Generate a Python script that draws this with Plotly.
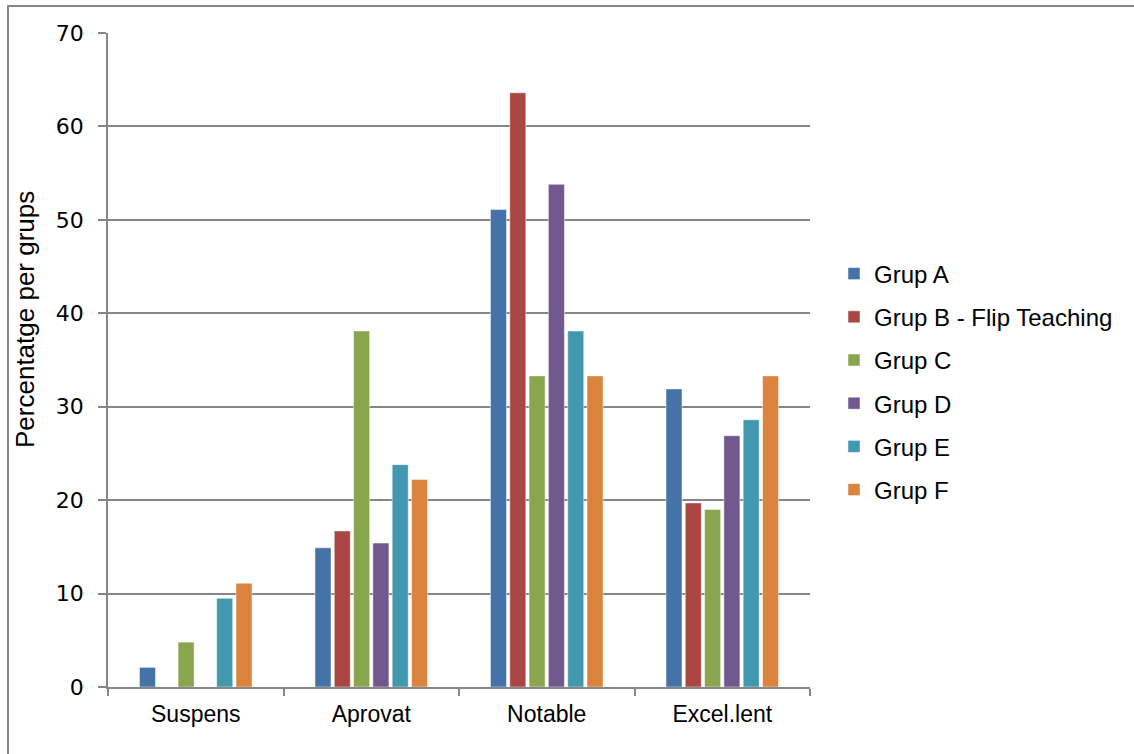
import plotly.graph_objects as go

categories = ["Suspens", "Aprovat", "Notable", "Excel.lent"]
groups = ["Grup A", "Grup B - Flip Teaching", "Grup C", "Grup D", "Grup E", "Grup F"]
grup_a = [2.1, 14.9, 51.1, 31.9]
grup_b = [0.0, 16.7, 63.6, 19.7]
grup_c = [4.8, 38.1, 33.3, 19.0]
grup_d = [0.0, 15.4, 53.8, 26.9]
grup_e = [9.5, 23.8, 38.1, 28.6]
grup_f = [11.1, 22.2, 33.3, 33.3]
series = [grup_a, grup_b, grup_c, grup_d, grup_e, grup_f]
colors = ["#4572A7", "#AA4643", "#89A54E", "#71588F", "#4198AF", "#DB843D"]
y_ticks = [0, 10, 20, 30, 40, 50, 60, 70]

W, H = 1134, 754
L, R, T, B = 108, 810, 33, 687

fig = go.Figure()
for name, vals, col in zip(groups, series, colors):
    fig.add_trace(go.Bar(
        x=categories, y=vals, name=name, legendgroup=name,
        marker=dict(color=col, line=dict(color="rgba(255,255,255,0.6)", width=0.8)),
    ))

grid = "#868686"
fig.update_layout(
    width=W, height=H,
    margin=dict(l=L, r=W - R, t=T, b=H - B),
    paper_bgcolor="white", plot_bgcolor="white",
    barmode="group", bargap=0.34, bargroupgap=0.17,
    font=dict(family="Liberation Sans, Arial, sans-serif", color="black"),
    legend=dict(
        x=(834 - L) / (R - L), xanchor="left",
        y=(B - 382) / (B - T), yanchor="middle",
        font=dict(family="Liberation Sans, Arial, sans-serif", size=24, color="black"),
        tracegroupgap=9, bgcolor="rgba(0,0,0,0)",
    ),
    xaxis=dict(
        type="category", showgrid=False, tickson="boundaries",
        ticks="outside", ticklen=7, tickwidth=1.5, tickcolor=grid,
        showline=True, linecolor=grid, linewidth=1.5,
        tickfont=dict(family="Liberation Sans, Arial, sans-serif", size=23, color="black"),
        ticklabelstandoff=6, zeroline=False,
    ),
    yaxis=dict(
        range=[0, 70], tickvals=y_ticks, showgrid=True, gridcolor=grid, gridwidth=1.5,
        ticks="outside", ticklen=8, tickwidth=1.5, tickcolor=grid,
        showline=True, linecolor=grid, linewidth=1.5, zeroline=False,
        tickfont=dict(family="DejaVu Sans, sans-serif", size=22, color="black"),
        ticklabelstandoff=10,
    ),
    annotations=[dict(
        text="Percentatge per grups", textangle=-90, showarrow=False,
        xref="paper", yref="paper",
        x=(25 - L) / (R - L), y=(B - 320) / (B - T),
        xanchor="center", yanchor="middle",
        font=dict(family="Liberation Sans, Arial, sans-serif", size=26, color="black"),
    )],
    shapes=[dict(
        type="rect", xref="paper", yref="paper", layer="below",
        x0=(8 - L) / (R - L), x1=(W + 10 - L) / (R - L),
        y0=(B - (H + 10)) / (B - T), y1=(B - 6) / (B - T),
        line=dict(color=grid, width=2), fillcolor="rgba(0,0,0,0)",
    )],
)

fig.write_html("out.html")
